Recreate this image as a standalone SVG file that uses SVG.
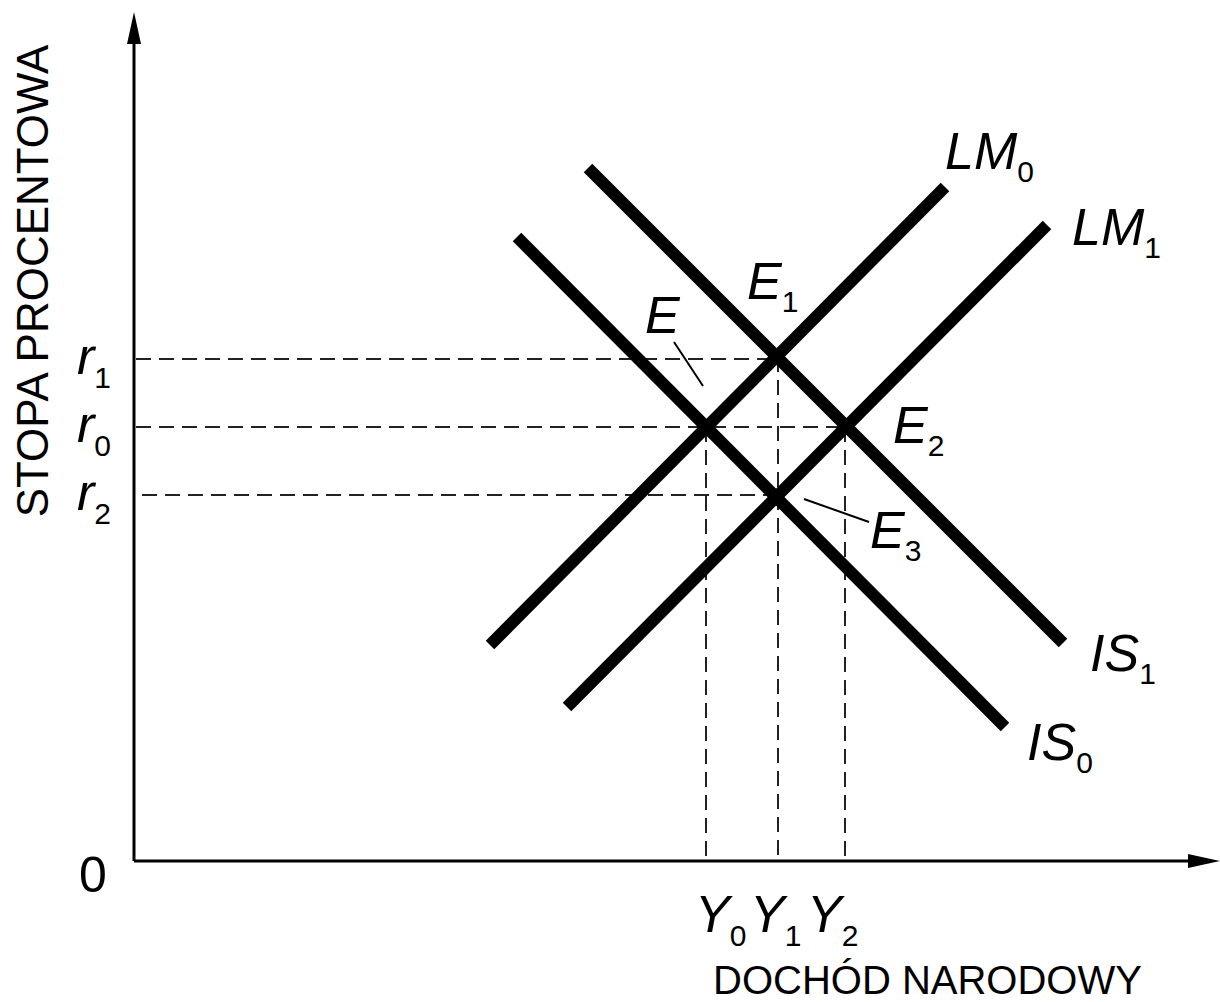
<svg xmlns="http://www.w3.org/2000/svg" width="1220" height="1002" viewBox="0 0 1220 1002">
<style>
.axis{stroke:#000;stroke-width:3;fill:none}
.curve{stroke:#000;stroke-width:12;fill:none;stroke-linecap:butt}
.dash{stroke:#222;stroke-width:2;stroke-dasharray:15 8;fill:none}
.lead{stroke:#000;stroke-width:2;fill:none}
.lbl{font-family:"Liberation Sans",Arial,sans-serif;font-style:italic;font-size:52px;fill:#000}
.sub{font-style:normal;font-size:30px}
.ttl{font-family:"Liberation Sans",Arial,sans-serif;font-size:44px;fill:#000}
</style>
<rect width="1220" height="1002" fill="#fff"/>
<g id="axes">
<line class="axis" x1="134" y1="861" x2="134" y2="38"/>
<polygon points="134,12 127,44 141,44" fill="#000"/>
<line class="axis" x1="134" y1="861" x2="1192" y2="861"/>
<polygon points="1220,861 1188,854 1188,868" fill="#000"/>
<text x="79" y="892" font-family="Liberation Sans, Arial, sans-serif" font-size="50">0</text>
<text class="ttl" transform="translate(48,281) rotate(-90)" text-anchor="middle">STOPA PROCENTOWA</text>
<text class="ttl" x="713" y="994" style="font-size:40px">DOCHÓD NARODOWY</text>
</g>
<g id="connectors">
<line class="dash" x1="136" y1="359" x2="777" y2="359"/>
<line class="dash" x1="136" y1="427" x2="845" y2="427"/>
<line class="dash" x1="142" y1="495" x2="777" y2="495"/>
<line class="dash" x1="706" y1="427" x2="706" y2="860"/>
<line class="dash" x1="778" y1="357" x2="778" y2="860"/>
<line class="dash" x1="845" y1="427" x2="845" y2="860"/>
<line class="lead" x1="674" y1="342" x2="703" y2="386"/>
<line class="lead" x1="804" y1="499" x2="869" y2="522"/>
</g>
<g id="LM0"><line class="curve" x1="490" y1="645" x2="945" y2="187"/>
<text class="lbl" x="945" y="169">LM<tspan class="sub" dy="13">0</tspan></text></g>
<g id="LM1"><line class="curve" x1="567" y1="707" x2="1047" y2="225"/>
<text class="lbl" x="1072" y="245">LM<tspan class="sub" dy="13">1</tspan></text></g>
<g id="IS0"><line class="curve" x1="517" y1="237" x2="1005" y2="727"/>
<text class="lbl" x="1027" y="760">IS<tspan class="sub" dy="13">0</tspan></text></g>
<g id="IS1"><line class="curve" x1="588" y1="168" x2="1063" y2="643"/>
<text class="lbl" x="1090" y="671">IS<tspan class="sub" dy="13">1</tspan></text></g>
<g id="E"><text class="lbl" x="645" y="333">E</text></g>
<g id="E1"><text class="lbl" x="747" y="299">E<tspan class="sub" dy="13">1</tspan></text></g>
<g id="E2"><text class="lbl" x="893" y="443">E<tspan class="sub" dy="13">2</tspan></text></g>
<g id="E3"><text class="lbl" x="870" y="548">E<tspan class="sub" dy="13">3</tspan></text></g>
<g id="r1"><text class="lbl" x="77" y="374">r<tspan class="sub" dy="14">1</tspan></text></g>
<g id="r0"><text class="lbl" x="77" y="442">r<tspan class="sub" dy="14">0</tspan></text></g>
<g id="r2"><text class="lbl" x="77" y="510">r<tspan class="sub" dy="14">2</tspan></text></g>
<g id="Y0"><text class="lbl" x="695" y="932">Y<tspan class="sub" dy="14">0</tspan></text></g>
<g id="Y1"><text class="lbl" x="750" y="932">Y<tspan class="sub" dy="14">1</tspan></text></g>
<g id="Y2"><text class="lbl" x="807" y="932">Y<tspan class="sub" dy="14">2</tspan></text></g>
</svg>
